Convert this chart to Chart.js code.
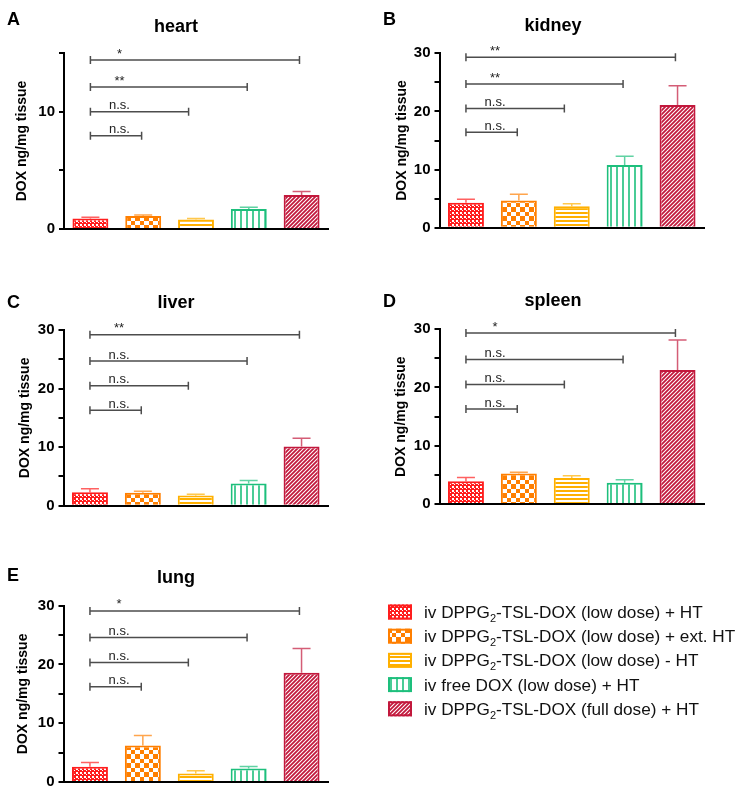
<!DOCTYPE html>
<html>
<head>
<meta charset="utf-8">
<script src="https://cdn.jsdelivr.net/npm/chart.js@4.4.1/dist/chart.umd.min.js"></script>
<style>
  body { margin: 0; background: #fff; }
  #wrap { position: relative; width: 753px; height: 796px; }
  #wrap canvas { position: absolute; }
</style>
</head>
<body>
<div id="wrap"></div>
<script>
// groups (same order in every organ panel)
const groups = [
  'iv DPPG2-TSL-DOX (low dose) + HT',
  'iv DPPG2-TSL-DOX (low dose) + ext. HT',
  'iv DPPG2-TSL-DOX (low dose) - HT',
  'iv free DOX (low dose) + HT',
  'iv DPPG2-TSL-DOX (full dose) + HT'
];
const organs = ['heart', 'kidney', 'liver', 'spleen', 'lung'];
const letters = ['A', 'B', 'C', 'D', 'E'];
const yAxisTitle = 'DOX ng/mg tissue';

// mean values and SEM, DOX ng/mg tissue
const heartMean  = [0.9, 1.1, 0.8, 1.7, 2.9];
const heartSem   = [0.1, 0.1, 0.1, 0.15, 0.3];
const kidneyMean = [4.3, 4.7, 3.7, 10.8, 21.1];
const kidneySem  = [0.6, 1.05, 0.4, 1.5, 3.3];
const liverMean  = [2.3, 2.2, 1.75, 3.8, 10.1];
const liverSem   = [0.6, 0.25, 0.2, 0.5, 1.4];
const spleenMean = [3.95, 5.25, 4.5, 3.7, 23.0];
const spleenSem  = [0.65, 0.25, 0.4, 0.5, 5.1];
const lungMean   = [2.6, 6.2, 1.45, 2.3, 18.6];
const lungSem    = [0.7, 1.7, 0.45, 0.35, 4.1];

// significance brackets: group 0 vs compareTo[i], drawn at height sigY
const compareTo  = [4, 3, 2, 1];
const heartSig   = ['*', '**', 'n.s.', 'n.s.'];
const heartSigY  = [14.4, 12.1, 10.0, 7.95];
const kidneySig  = ['**', '**', 'n.s.', 'n.s.'];
const kidneySigY = [29.3, 24.7, 20.5, 16.4];
const liverSig   = ['**', 'n.s.', 'n.s.', 'n.s.'];
const liverSigY  = [29.2, 24.7, 20.5, 16.3];
const spleenSig  = ['*', 'n.s.', 'n.s.', 'n.s.'];
const spleenSigY = [29.3, 24.8, 20.5, 16.3];
const lungSig    = ['*', 'n.s.', 'n.s.', 'n.s.'];
const lungSigY   = [29.1, 24.6, 20.35, 16.2];

const heartMax = 15;
const organMax = 30;
const tickStep = 5;

const colors = ['#ff1e1e', '#ff7f00', '#ffb000', '#1dbf7c', '#c2183c'];
const FONT = '"Liberation Sans", Arial, sans-serif';

function rgba(hex, a) {
  const n = parseInt(hex.slice(1), 16);
  return 'rgba(' + (n >> 16) + ',' + ((n >> 8) & 255) + ',' + (n & 255) + ',' + a + ')';
}

function makePattern(kind, color) {
  const c = document.createElement('canvas');
  const g = c.getContext('2d');
  if (kind === 'fine') {
    c.width = c.height = 4;
    g.fillStyle = color; g.fillRect(0, 0, 4, 4);
    g.fillStyle = '#fff'; g.fillRect(0, 0, 2, 2); g.fillRect(2, 2, 1, 1);
  } else if (kind === 'check') {
    c.width = c.height = 9;
    g.fillStyle = '#fff'; g.fillRect(0, 0, 9, 9);
    g.fillStyle = color; g.fillRect(0, 0, 5, 5); g.fillRect(5, 5, 4, 4);
  } else if (kind === 'hlines') {
    c.width = 4; c.height = 4;
    g.fillStyle = '#fff'; g.fillRect(0, 0, 4, 4);
    g.fillStyle = color; g.fillRect(0, 0, 4, 2);
  } else if (kind === 'vlines') {
    c.width = 6; c.height = 6;
    g.fillStyle = '#fff'; g.fillRect(0, 0, 6, 6);
    g.fillStyle = rgba(color, 0.8); g.fillRect(0, 0, 2, 6);
  } else {
    c.width = c.height = 4;
    g.fillStyle = '#fff'; g.fillRect(0, 0, 4, 4);
    g.strokeStyle = color; g.lineWidth = 1.8;
    g.beginPath();
    g.moveTo(0, 4); g.lineTo(4, 0);
    g.moveTo(-1, 1); g.lineTo(1, -1);
    g.moveTo(3, 5); g.lineTo(5, 3);
    g.stroke();
  }
  return g.createPattern(c, 'repeat');
}

const patternKinds = ['fine', 'check', 'hlines', 'vlines', 'diag'];
const patterns = colors.map((c, i) => makePattern(patternKinds[i], c));

// panel layout (page pixels)
const panels = [
  { id: 'cA', organ: 0, mean: heartMean, sem: heartSem, sig: heartSig, sigY: heartSigY, max: heartMax,
    left: 0, top: 0, w: 376, h: 245, area: { l: 64, r: 328, t: 53, b: 229 }, yw: 54,
    letter: [7, 25], title: [176, 31.5] },
  { id: 'cB', organ: 1, mean: kidneyMean, sem: kidneySem, sig: kidneySig, sigY: kidneySigY, max: organMax,
    left: 376, top: 0, w: 377, h: 245, area: { l: 439.5, r: 704, t: 53.3, b: 227.7 }, yw: 50,
    letter: [383, 25], title: [553, 31] },
  { id: 'cC', organ: 2, mean: liverMean, sem: liverSem, sig: liverSig, sigY: liverSigY, max: organMax,
    left: 0, top: 250, w: 376, h: 270, area: { l: 63.5, r: 328, t: 330, b: 505.7 }, yw: 51,
    letter: [7, 308], title: [176, 307.5] },
  { id: 'cD', organ: 3, mean: spleenMean, sem: spleenSem, sig: spleenSig, sigY: spleenSigY, max: organMax,
    left: 376, top: 250, w: 377, h: 270, area: { l: 439.5, r: 704, t: 329, b: 504.3 }, yw: 51,
    letter: [383, 306.7], title: [553, 306.3] },
  { id: 'cE', organ: 4, mean: lungMean, sem: lungSem, sig: lungSig, sigY: lungSigY, max: organMax,
    left: 0, top: 520, w: 753, h: 276, area: { l: 63.5, r: 328, t: 605.7, b: 782 }, yw: 53,
    letter: [7, 581], title: [176, 583], legend: true }
];
const panelById = {};
panels.forEach(p => { panelById[p.id] = p; });

// bracket right ends sit a little short of the bar centre
const bracketTrim = [0.04, 0.03, 0.14, 0.03];

const decor = {
  id: 'decor',
  afterDatasetsDraw(chart) {
    const p = panelById[chart.canvas.id];
    const { ctx } = chart;
    const x = chart.scales.x, y = chart.scales.y;
    ctx.save();
    // error bars (upper only)
    p.mean.forEach((m, i) => {
      const cx = x.getPixelForValue(i);
      const y0 = y.getPixelForValue(m);
      const y1 = y.getPixelForValue(m + p.sem[i]);
      ctx.strokeStyle = rgba(colors[i], 0.7);
      ctx.lineWidth = 1.5;
      ctx.beginPath();
      ctx.moveTo(cx, y0); ctx.lineTo(cx, y1);
      ctx.moveTo(cx - 9, y1); ctx.lineTo(cx + 9, y1);
      ctx.stroke();
    });
    // significance brackets
    p.sig.forEach((s, i) => {
      const xa = x.getPixelForValue(0);
      const xb = x.getPixelForValue(compareTo[i] - bracketTrim[i]);
      const yy = y.getPixelForValue(p.sigY[i]);
      ctx.strokeStyle = '#4d4d4d';
      ctx.lineWidth = 1.5;
      ctx.beginPath();
      ctx.moveTo(xa, yy); ctx.lineTo(xb, yy);
      ctx.moveTo(xa, yy - 4); ctx.lineTo(xa, yy + 4);
      ctx.moveTo(xb, yy - 4); ctx.lineTo(xb, yy + 4);
      ctx.stroke();
      ctx.fillStyle = '#222';
      ctx.font = '13px ' + FONT;
      ctx.textAlign = 'center';
      ctx.textBaseline = 'alphabetic';
      ctx.fillText(s, x.getPixelForValue(0.55), yy - 2.5);
    });
    ctx.restore();
  },
  afterDraw(chart) {
    const p = panelById[chart.canvas.id];
    const { ctx } = chart;
    ctx.save();
    ctx.fillStyle = '#000';
    ctx.textBaseline = 'alphabetic';
    ctx.textAlign = 'left';
    ctx.font = 'bold 18px ' + FONT;
    ctx.fillText(letters[p.organ], p.letter[0] - p.left, p.letter[1] - p.top);
    ctx.textAlign = 'center';
    ctx.fillText(organs[p.organ], p.title[0] - p.left, p.title[1] - p.top);
    if (p.legend) {
      const rowY = [612, 636.2, 660.4, 684.6, 708.8];
      groups.forEach((name, i) => {
        const cy = rowY[i] - p.top;
        const sx = 388 - p.left;
        ctx.fillStyle = patterns[i];
        ctx.fillRect(sx, cy - 7.5, 24, 15);
        ctx.strokeStyle = colors[i];
        ctx.lineWidth = 2;
        ctx.strokeRect(sx + 1, cy - 6.5, 22, 13);
        // text with subscript 2 after DPPG
        ctx.fillStyle = '#111';
        ctx.textAlign = 'left';
        ctx.textBaseline = 'alphabetic';
        let tx = 424 - p.left;
        const base = cy + 6;
        const k = name.indexOf('DPPG2');
        const parts = k >= 0
          ? [[name.slice(0, k + 4), false], ['2', true], [name.slice(k + 5), false]]
          : [[name, false]];
        parts.forEach(([t, sub]) => {
          ctx.font = (sub ? '11px ' : '17.2px ') + FONT;
          ctx.fillText(t, tx, base + (sub ? 4 : 0));
          tx += ctx.measureText(t).width;
        });
      });
    }
    ctx.restore();
  }
};

const wrap = document.getElementById('wrap');
panels.forEach(p => {
  const cv = document.createElement('canvas');
  cv.id = p.id;
  cv.width = p.w; cv.height = p.h;
  cv.style.left = p.left + 'px'; cv.style.top = p.top + 'px';
  cv.style.width = p.w + 'px'; cv.style.height = p.h + 'px';
  wrap.appendChild(cv);

  new Chart(cv, {
    type: 'bar',
    data: {
      labels: groups,
      datasets: [{
        data: p.mean,
        backgroundColor: patterns,
        borderColor: colors,
        borderWidth: 2,
        barPercentage: 0.68,
        categoryPercentage: 1
      }]
    },
    options: {
      responsive: false,
      animation: false,
      layout: {
        padding: {
          left: p.area.l - p.left - p.yw,
          right: p.left + p.w - p.area.r,
          top: p.area.t - p.top,
          bottom: p.top + p.h - p.area.b
        }
      },
      plugins: { legend: { display: false }, tooltip: { enabled: false } },
      scales: {
        x: {
          grid: { display: false },
          ticks: { display: false },
          border: { display: true, color: '#000', width: 2, z: 1 },
          afterFit: s => { s.height = 0; }
        },
        y: {
          min: 0,
          max: p.max,
          afterFit: s => { s.width = p.yw; },
          ticks: {
            stepSize: tickStep,
            autoSkip: false,
            padding: 4,
            color: '#000',
            font: { family: FONT, size: 15, weight: 'bold' },
            callback: v => (v % 10 === 0 ? v : '')
          },
          grid: { drawOnChartArea: false, drawTicks: true, tickLength: 5, color: '#000', lineWidth: 2 },
          border: { display: true, color: '#000', width: 2, z: 1 },
          title: {
            display: true,
            text: yAxisTitle,
            color: '#000',
            font: { family: FONT, size: 14, weight: 'bold' },
            padding: { top: 4, bottom: 4 }
          }
        }
      }
    },
    plugins: [decor]
  });
});
</script>
</body>
</html>
